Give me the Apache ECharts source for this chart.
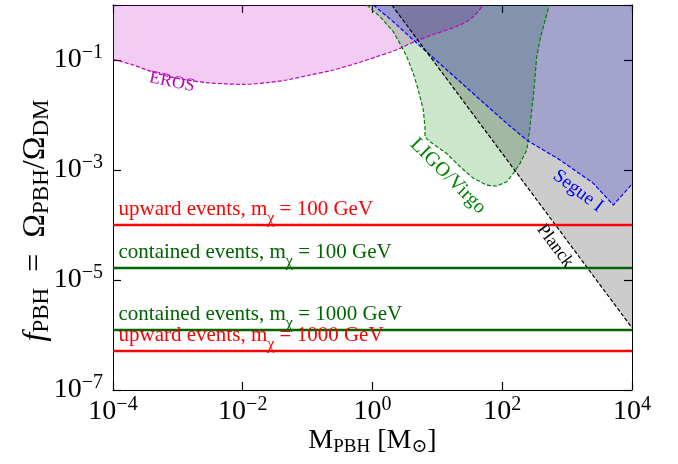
<!DOCTYPE html>
<html>
<head>
<meta charset="utf-8">
<script src="https://cdn.jsdelivr.net/npm/echarts@6.0.0/dist/echarts.min.js"></script>
<style>html,body{margin:0;padding:0;background:#fff;}#chart{width:678px;height:464px;}</style>
</head>
<body>
<div id="chart"></div>
<script>
// ---------- data ----------
const xTickValues = [1e-4, 1e-2, 1e0, 1e2, 1e4];
const yTickValues = [1e-7, 1e-5, 1e-3, 1e-1];
const yMax = 1;

// EROS bound  [M_PBH (Msun), f_PBH]
const erosBoundary = [
  [1e-4, 0.103], [2.06e-4, 0.081], [3.3e-4, 0.0658], [6.73e-4, 0.0512], [1.37e-3, 0.0433],
  [3.13e-3, 0.0382], [0.0102, 0.0361], [0.0234, 0.0387], [0.0475, 0.0433], [0.109, 0.0534],
  [0.249, 0.0658], [0.57, 0.0871], [1.16, 0.115], [1.86, 0.138], [2.65, 0.163],
  [4.8, 0.224], [9.77, 0.306], [22.3, 0.433], [35.8, 0.613], [51, 1]
];
// LIGO/Virgo bound
const ligoBoundary = [
  [0.815, 1], [1.31, 0.612], [2.09, 0.327], [2.82, 0.175], [3.37, 0.115], [4.26, 0.0573],
  [5.08, 0.0285], [6.07, 0.0123], [6.44, 6.1e-3], [6.44, 4.0e-3], [7.69, 3.27e-3],
  [13.9, 2.0e-3], [22.3, 1.15e-3], [35.8, 7.1e-4], [57.5, 5.3e-4], [82, 5.1e-4],
  [117, 6.1e-4], [148, 8.7e-4], [188, 1.32e-3], [238, 2.3e-3], [252, 3.5e-3],
  [268, 6.1e-3], [284, 0.0123], [301, 0.0215], [320, 0.0497], [340, 0.115],
  [382, 0.231], [430, 0.403], [484, 0.658], [531, 1]
];
// Segue I bound
const segueBoundary = [
  [1.03, 1], [2.09, 0.497], [4.26, 0.231], [12.3, 0.0756], [40.4, 0.0215], [117, 7.06e-3],
  [238, 3.51e-3], [776, 1.52e-3], [2535, 5.73e-4], [5150, 2.31e-4], [1e4, 5.5e-4]
];
// Planck bound
const planckBoundary = [[1.98, 1], [1e4, 1.35e-6]];

// neutrino-event limits (horizontal lines)
const eventKinds  = ['upward', 'contained', 'contained', 'upward'];
const eventMasses = ['100', '100', '1000', '1000'];
const eventLimits = [1.0e-4, 1.65e-5, 1.23e-6, 5.1e-7];

// ---------- styling ----------
const SERIF = '"Liberation Serif", "DejaVu Serif", serif';
const eventColors = ['#ff0000', '#006400', '#006400', '#ff0000'];

const tickRich = {
  b: { fontFamily: SERIF, fontSize: 28, lineHeight: 34, color: '#000' },
  s: { fontFamily: SERIF, fontSize: 20, lineHeight: 20, verticalAlign: 'top', color: '#000' }
};
function tickFmt(keepOdd) {
  return function (v) {
    const e = Math.round(Math.log10(v));
    if ((Math.abs(e) % 2 === 1) !== keepOdd) return '';
    return '{b|10}{s|' + (e < 0 ? '\u2212' : '') + Math.abs(e) + '}';
  };
}
const titleRich = {
  m: { fontFamily: SERIF, fontSize: 28, lineHeight: 32, color: '#000' },
  s: { fontFamily: SERIF, fontSize: 19, lineHeight: 19, verticalAlign: 'bottom', color: '#000' }
};
const yTitleRich = {
  m: { fontFamily: SERIF, fontSize: 32, lineHeight: 34, color: '#000' },
  i: { fontFamily: SERIF, fontSize: 32, lineHeight: 34, fontStyle: 'italic', color: '#000' },
  s: { fontFamily: SERIF, fontSize: 23, lineHeight: 23, verticalAlign: 'bottom', color: '#000' }
};

const xMin = xTickValues[0], xMax = xTickValues[xTickValues.length - 1];
const yMin = yTickValues[0];

function logAxis(min, max, extra) {
  return Object.assign({
    type: 'log', logBase: 10, min: min, max: max, interval: 2,
    axisLine: { show: true, lineStyle: { color: '#000', width: 1 } },
    axisTick: { show: true, inside: true, length: 8, lineStyle: { color: '#000', width: 1.2 } },
    minorTick: { show: false },
    splitLine: { show: false },
    axisLabel: { show: false }
  }, extra);
}

function region(name, data, color, fill, smooth) {
  return {
    name: name, type: 'line', data: data, symbol: 'none', smooth: smooth,
    xAxisIndex: 0, yAxisIndex: 0, z: 2, silent: true,
    lineStyle: { color: color, width: 1.2, type: [4, 2] },
    areaStyle: { color: fill, origin: 'end', opacity: 1 }
  };
}

const series = [
  region('EROS', erosBoundary, '#bf00bf', 'rgba(191,0,191,0.2)', 0.3),
  region('LIGO/Virgo', ligoBoundary, '#008000', 'rgba(0,128,0,0.2)', false),
  region('Segue I', segueBoundary, '#0000ff', 'rgba(0,0,255,0.2)', false),
  region('Planck', planckBoundary, '#000000', 'rgba(0,0,0,0.2)', false)
];

eventLimits.forEach(function (v, k) {
  const col = eventColors[k];
  series.push({
    name: eventKinds[k] + ' ' + eventMasses[k], type: 'line', z: 4, silent: true,
    xAxisIndex: 0, yAxisIndex: 0,
    symbol: 'circle', symbolSize: 1, showSymbol: true,
    itemStyle: { color: 'rgba(0,0,0,0)' },
    lineStyle: { color: col, width: 2.5 },
    data: [
      { value: [xMin, v], label: {
          show: true, position: [6, -26], align: 'left', verticalAlign: 'top',
          formatter: '{b|' + eventKinds[k] + ' events, m}{c|\u03c7}{b| = ' + eventMasses[k] + ' GeV}',
          rich: {
            b: { fontFamily: SERIF, fontSize: 21, lineHeight: 22, verticalAlign: 'top', color: col },
            c: { fontFamily: SERIF, fontSize: 16, lineHeight: 28, verticalAlign: 'bottom', color: col }
          }
      } },
      { value: [xMax, v], label: { show: false } }
    ]
  });
});

const chart = echarts.init(document.getElementById('chart'), null, { renderer: 'canvas' });
chart.setOption({
  animation: false,
  backgroundColor: '#fff',
  grid: { left: 113, right: 46, top: 5, bottom: 74, containLabel: false, outerBoundsMode: 'none' },
  xAxis: [
    logAxis(xMin, xMax, {
      position: 'bottom',
      axisLabel: { show: true, margin: 5, formatter: tickFmt(false), rich: tickRich },
      name: '{m|M}{s|PBH}{m| [M}{s|\u2299}{m|]}',
      nameLocation: 'middle', nameGap: 35, nameMoveOverlap: false,
      nameTextStyle: { rich: titleRich }
    }),
    logAxis(xMin, xMax, { position: 'top' })
  ],
  yAxis: [
    logAxis(yMin, yMax, {
      position: 'left',
      axisLabel: { show: true, margin: 10, formatter: tickFmt(true), rich: tickRich },
      name: '{i|f}{s|PBH}{m|\u2002=\u2002\u03a9}{s|PBH}{m|/\u03a9}{s|DM}',
      nameLocation: 'middle', nameGap: 60, nameMoveOverlap: false,
      nameTextStyle: { rich: yTitleRich, padding: [0, 46, 0, 0] }
    }),
    logAxis(yMin, yMax, { position: 'right' })
  ],
  series: series,
  graphic: [
    { id: 'eros', type: 'text', x: 172, y: 82, rotation: -11.5 * Math.PI / 180, z: 10, silent: true,
      style: { text: 'EROS', fill: '#bf00bf', font: '18px ' + SERIF, align: 'center', verticalAlign: 'middle' } },
    { id: 'ligo', type: 'text', x: 448, y: 176, rotation: -45 * Math.PI / 180, z: 10, silent: true,
      style: { text: 'LIGO/Virgo', fill: '#008000', font: '20px ' + SERIF, align: 'center', verticalAlign: 'middle' } },
    { id: 'segue', type: 'text', x: 578, y: 191, rotation: -37 * Math.PI / 180, z: 10, silent: true,
      style: { text: 'Segue I', fill: '#0000ff', font: '19px ' + SERIF, align: 'center', verticalAlign: 'middle' } },
    { id: 'planck', type: 'text', x: 555, y: 246, rotation: -53.4 * Math.PI / 180, z: 10, silent: true,
      style: { text: 'Planck', fill: '#000000', font: '18px ' + SERIF, align: 'center', verticalAlign: 'middle' } }
  ]
});
</script>
</body>
</html>
